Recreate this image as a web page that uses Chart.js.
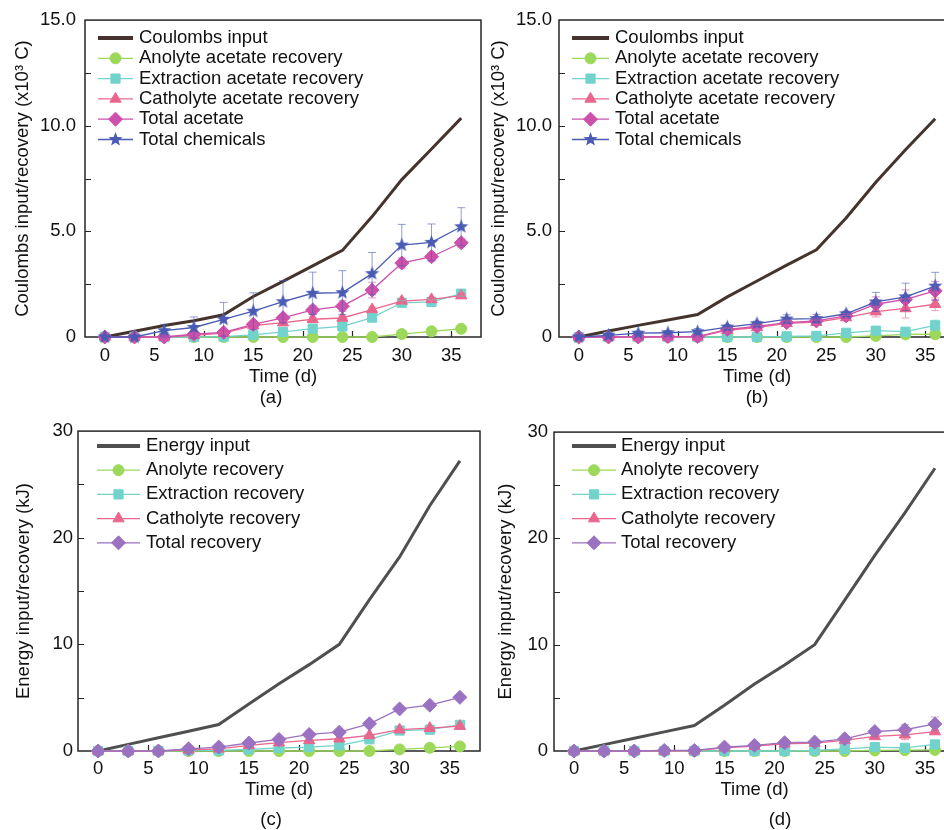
<!DOCTYPE html>
<html>
<head>
<meta charset="utf-8">
<script src="https://cdn.jsdelivr.net/npm/chart.js@4/dist/chart.umd.min.js"></script>
<style>
html, body { margin: 0; padding: 0; background: #fff; overflow: hidden; width: 944px; height: 830px; }
canvas { position: absolute; }
</style>
</head>
<body>
<canvas id="chartA" width="490" height="415" style="left:0;top:0"></canvas>
<canvas id="chartB" width="495" height="415" style="left:472px;top:0"></canvas>
<canvas id="chartC" width="490" height="415" style="left:0;top:415px"></canvas>
<canvas id="chartD" width="495" height="415" style="left:472px;top:415px"></canvas>
<script>
// dias de muestreo (compartidos por los 4 paneles)
const days = [0, 3, 6, 9, 12, 15, 18, 21, 24, 27, 30, 33, 36];
const dayTicks = [0, 5, 10, 15, 20, 25, 30, 35];

// (a) coulombs, x10^3 C
const coulombsA   = [0, 0.27, 0.54, 0.77, 1.05, 1.92, 2.63, 3.37, 4.1, 5.7, 7.45, 8.9, 10.36];
const anolyteA    = [0, 0, 0, 0, 0, 0, 0, 0, 0, 0, 0.14, 0.27, 0.39];
const extractionA = [0, 0, 0, 0, 0.02, 0.1, 0.24, 0.4, 0.5, 0.92, 1.62, 1.66, 2.05];
const catholyteA  = [0, 0, 0, 0.08, 0.18, 0.54, 0.68, 0.84, 0.9, 1.3, 1.7, 1.78, 1.96];
const acetateA    = [0, 0, 0, 0.13, 0.22, 0.6, 0.91, 1.28, 1.46, 2.22, 3.5, 3.8, 4.46];
const chemicalsA  = [0, 0, 0.3, 0.45, 0.84, 1.22, 1.67, 2.07, 2.1, 3.0, 4.35, 4.48, 5.22];
const extractionErrA = [0, 0, 0, 0, 0, 0.05, 0.08, 0.08, 0.1, 0.2, 0.1, 0.1, 0.12];
const catholyteErrA  = [0, 0, 0, 0, 0.05, 0.08, 0.1, 0.1, 0.1, 0.12, 0.1, 0.1, 0.1];
const acetateErrA    = [0, 0, 0, 0.05, 0.08, 0.12, 0.15, 0.2, 0.25, 0.37, 0.24, 0.2, 0.2];
const chemicalsErrA  = [0, 0, 0.3, 0.5, 0.8, 0.87, 1.0, 1.0, 1.04, 1.0, 0.98, 0.87, 0.9];

// (b) coulombs, x10^3 C
const coulombsB   = [0, 0.28, 0.55, 0.8, 1.06, 1.9, 2.65, 3.4, 4.13, 5.63, 7.32, 8.86, 10.33];
const anolyteB    = [0, 0, 0, 0, 0, 0, 0, 0, 0, 0, 0.05, 0.12, 0.13];
const extractionB = [0, 0, 0, 0, 0, 0, 0, 0.03, 0.05, 0.2, 0.3, 0.25, 0.55];
const catholyteB  = [0, 0, 0, 0, 0, 0.32, 0.45, 0.65, 0.7, 0.92, 1.2, 1.35, 1.55];
const acetateB    = [0, 0, 0, 0.02, 0.02, 0.36, 0.5, 0.68, 0.76, 1.0, 1.55, 1.78, 2.18];
const chemicalsB  = [0, 0.08, 0.18, 0.2, 0.25, 0.47, 0.63, 0.85, 0.87, 1.1, 1.66, 1.9, 2.41];
const extractionErrB = [0, 0, 0, 0, 0, 0, 0, 0, 0, 0, 0.05, 0.05, 0.25];
const catholyteErrB  = [0, 0, 0, 0, 0, 0.08, 0.08, 0.1, 0.1, 0.1, 0.25, 0.45, 0.3];
const acetateErrB    = [0, 0, 0, 0.05, 0.05, 0.1, 0.1, 0.12, 0.12, 0.1, 0.35, 0.45, 0.45];
const chemicalsErrB  = [0, 0.05, 0.1, 0.1, 0.15, 0.1, 0.12, 0.2, 0.2, 0.12, 0.45, 0.65, 0.65];

// (c) energia, kJ
const energyC     = [0, 0.62, 1.24, 1.86, 2.48, 4.4, 6.3, 8.1, 10.0, 14.2, 18.2, 23.0, 27.2];
const anolyteC    = [0, 0, 0, 0, 0, 0, 0, 0, 0, 0, 0.15, 0.3, 0.43];
const extractionC = [0, 0, 0, 0.05, 0.05, 0.15, 0.28, 0.37, 0.53, 1.1, 1.92, 2.0, 2.45];
const catholyteC  = [0, 0, 0, 0.1, 0.2, 0.53, 0.78, 1.0, 1.15, 1.46, 2.0, 2.14, 2.33];
const totalC      = [0, 0, 0, 0.2, 0.37, 0.75, 1.09, 1.55, 1.77, 2.55, 3.95, 4.3, 5.03];

// (d) energia, kJ
const energyD     = [0, 0.6, 1.2, 1.8, 2.4, 4.3, 6.3, 8.1, 10.0, 14.2, 18.4, 22.4, 26.6];
const anolyteD    = [0, 0, 0, 0, 0, 0, 0, 0, 0, 0, 0.05, 0.08, 0.1];
const extractionD = [0, 0, 0, 0, 0, 0, 0, 0, 0.05, 0.2, 0.37, 0.3, 0.62];
const catholyteD  = [0, 0, 0, 0, 0.02, 0.3, 0.45, 0.68, 0.75, 1.0, 1.37, 1.52, 1.83];
const totalD      = [0, 0, 0, 0.05, 0.05, 0.37, 0.53, 0.78, 0.84, 1.15, 1.83, 2.0, 2.55];
const catholyteErrD = [0, 0, 0, 0, 0, 0, 0, 0, 0, 0.1, 0.15, 0.45, 0.2];
const totalErrD     = [0, 0, 0, 0, 0, 0, 0, 0.05, 0.05, 0.1, 0.3, 0.5, 0.65];

const FONT = '"Liberation Sans", Arial, Helvetica, sans-serif';
const FS = 18.5;

function starImage(color, r) {
    const c = document.createElement("canvas");
    const s = Math.ceil(r * 2 + 2);
    c.width = s; c.height = s;
    const g = c.getContext("2d");
    g.fillStyle = color;
    g.beginPath();
    for (let i = 0; i < 10; i++) {
        const rad = i % 2 === 0 ? r : r * 0.42;
        const a = -Math.PI / 2 + i * Math.PI / 5;
        const px = s / 2 + Math.cos(a) * rad, py = s / 2 + Math.sin(a) * rad;
        i === 0 ? g.moveTo(px, py) : g.lineTo(px, py);
    }
    g.closePath();
    g.fill();
    return c;
}

// estilos de cada serie
const STYLES = {
    coulombs:   { color: "#45342e", width: 3, point: null },
    energy:     { color: "#4f4f4f", width: 3, point: null },
    anolyte:    { color: "#9cd85a", width: 1.3, point: "circle", r: 5.5 },
    extraction: { color: "#72d3cc", width: 1.3, point: "rect", r: 6.5 },
    catholyte:  { color: "#e9668d", width: 1.3, point: "triangle", r: 6.5 },
    acetate:    { color: "#cd50ab", width: 1.3, point: "rectRot", r: 7 },
    chemicals:  { color: "#4a5bb4", width: 1.3, point: starImage("#4a5bb4", 7.5), r: 7.5 },
    total:      { color: "#9b71c1", width: 1.3, point: "rectRot", r: 7 }
};

function series(label, values, kind, err) {
    return { label, values, kind, err };
}

function alpha(hex, a) {
    const n = parseInt(hex.slice(1), 16);
    return `rgba(${(n >> 16) & 255},${(n >> 8) & 255},${n & 255},${a})`;
}

// marco, ticks hacia dentro, barras de error, leyenda y etiqueta del panel
const decorPlugin = {
    id: "decor",
    beforeDatasetsDraw(chart, args, o) {
        const { ctx, chartArea: a, scales } = chart;
        ctx.save();
        ctx.strokeStyle = "#262626";
        ctx.lineWidth = 1.5;
        ctx.strokeRect(a.left, a.top, a.right - a.left, a.bottom - a.top);
        ctx.beginPath();
        scales.x.ticks.forEach(t => {
            const px = Math.round(scales.x.getPixelForValue(t.value)) + 0.5;
            ctx.moveTo(px, a.bottom); ctx.lineTo(px, a.bottom - 6);
        });
        for (let v = o.yMinor; v < scales.y.max; v += o.yMinor) {
            const py = Math.round(scales.y.getPixelForValue(v)) + 0.5;
            ctx.moveTo(a.left, py); ctx.lineTo(a.left + 6, py);
        }
        ctx.lineWidth = 1.2;
        ctx.stroke();
        ctx.restore();
    },
    afterDatasetsDraw(chart, args, o) {
        const { ctx, scales } = chart;
        ctx.save();
        o.series.forEach(s => {
            if (!s.err) return;
            ctx.strokeStyle = alpha(STYLES[s.kind].color, 0.6);
            ctx.lineWidth = 1;
            ctx.beginPath();
            s.err.forEach((e, i) => {
                if (!e) return;
                const px = scales.x.getPixelForValue(days[i]);
                const top = scales.y.getPixelForValue(s.values[i] + e);
                const bot = scales.y.getPixelForValue(s.values[i] - e);
                ctx.moveTo(px, top); ctx.lineTo(px, bot);
                ctx.moveTo(px - 4, top); ctx.lineTo(px + 4, top);
                ctx.moveTo(px - 4, bot); ctx.lineTo(px + 4, bot);
            });
            ctx.stroke();
        });
        ctx.restore();
    },
    afterDraw(chart, args, o) {
        const { ctx } = chart;
        const L = o.legend;
        ctx.save();
        ctx.font = `${FS}px ${FONT}`;
        ctx.textBaseline = "middle";
        ctx.textAlign = "left";
        chart.data.datasets.forEach((ds, i) => {
            const y = L.y0 + i * L.dy;
            const st = STYLES[o.series[i].kind];
            ctx.strokeStyle = st.color;
            ctx.lineWidth = st.width === 3 ? 4 : st.width;
            ctx.beginPath();
            ctx.moveTo(L.x1, y); ctx.lineTo(L.x2, y);
            ctx.stroke();
            if (st.point) {
                ctx.fillStyle = st.color;
                ctx.strokeStyle = st.color;
                ctx.lineWidth = 1;
                Chart.helpers.drawPoint(ctx, { pointStyle: st.point, radius: st.r, rotation: 0, borderWidth: 1 }, (L.x1 + L.x2) / 2, y);
            }
            ctx.fillStyle = "#111";
            ctx.fillText(ds.label, L.tx, y);
        });
        ctx.textAlign = "center";
        ctx.fillText(o.tag.text, o.tag.x, o.tag.y);
        ctx.restore();
    }
};

function buildPanel(p) {
    const n = p.series.length;
    const datasets = p.series.map((s, i) => {
        const st = STYLES[s.kind];
        return {
            label: s.label,
            data: days.map((d, j) => ({ x: d, y: s.values[j] })),
            borderColor: st.color,
            backgroundColor: st.color,
            borderWidth: st.width,
            pointStyle: st.point || "circle",
            pointRadius: st.point ? st.r : 0,
            pointBorderWidth: 1,
            tension: 0,
            clip: false,
            order: n - i
        };
    });
    new Chart(document.getElementById(p.id), {
        type: "line",
        data: { datasets },
        plugins: [decorPlugin],
        options: {
            responsive: false,
            animation: false,
            events: [],
            layout: { padding: { top: p.padTop, right: p.padRight, left: 0, bottom: 0 } },
            plugins: {
                legend: { display: false },
                tooltip: { enabled: false },
                decor: { series: p.series, yMinor: p.yMinor, legend: p.legend, tag: p.tag }
            },
            scales: {
                x: {
                    type: "linear", min: -2, max: 38,
                    grid: { display: false, drawTicks: false }, border: { display: false },
                    ticks: { padding: p.xTickPad, color: "#111", font: { family: FONT, size: FS } },
                    afterBuildTicks: s => { s.ticks = dayTicks.map(v => ({ value: v })); },
                    afterFit: s => { s.height = p.xH; },
                    title: { display: true, text: "Time (d)", color: "#111", font: { family: FONT, size: FS }, padding: { top: 0, bottom: p.xTitlePad } }
                },
                y: {
                    type: "linear", min: 0, max: p.yMax,
                    grid: { display: false, drawTicks: false }, border: { display: false },
                    ticks: {
                        stepSize: p.yStep, padding: p.yTickPad, color: "#111", font: { family: FONT, size: FS },
                        callback: v => v === 0 ? "0" : v.toFixed(p.decimals)
                    },
                    afterFit: s => { s.width = p.yW; },
                    title: { display: true, text: p.yLabel, color: "#111", font: { family: FONT, size: FS }, padding: { top: p.yTitlePad, bottom: 0 } }
                }
            }
        }
    });
}

const coulombLabel = "Coulombs input/recovery (x10³ C)";
const energyLabel = "Energy input/recovery (kJ)";

buildPanel({
    id: "chartA", yMax: 15, yStep: 5, yMinor: 2.5, decimals: 1, yLabel: coulombLabel,
    yW: 85, xH: 78, padTop: 20, padRight: 9, yTickPad: 9, xTickPad: 8, yTitlePad: 12, xTitlePad: 27,
    legend: { x1: 98, x2: 133, tx: 139, y0: 38, dy: 20.3 },
    tag: { text: "(a)", x: 271, y: 398 },
    series: [
        series("Coulombs input", coulombsA, "coulombs"),
        series("Anolyte acetate recovery", anolyteA, "anolyte"),
        series("Extraction acetate recovery", extractionA, "extraction", extractionErrA),
        series("Catholyte acetate recovery", catholyteA, "catholyte", catholyteErrA),
        series("Total acetate", acetateA, "acetate", acetateErrA),
        series("Total chemicals", chemicalsA, "chemicals", chemicalsErrA)
    ]
});

buildPanel({
    id: "chartB", yMax: 15, yStep: 5, yMinor: 2.5, decimals: 1, yLabel: coulombLabel,
    yW: 87, xH: 78, padTop: 20, padRight: 12, yTickPad: 7, xTickPad: 8, yTitlePad: 16, xTitlePad: 27,
    legend: { x1: 100, x2: 137, tx: 143, y0: 38, dy: 20.3 },
    tag: { text: "(b)", x: 285, y: 398 },
    series: [
        series("Coulombs input", coulombsB, "coulombs"),
        series("Anolyte acetate recovery", anolyteB, "anolyte"),
        series("Extraction acetate recovery", extractionB, "extraction", extractionErrB),
        series("Catholyte acetate recovery", catholyteB, "catholyte", catholyteErrB),
        series("Total acetate", acetateB, "acetate", acetateErrB),
        series("Total chemicals", chemicalsB, "chemicals", chemicalsErrB)
    ]
});

buildPanel({
    id: "chartC", yMax: 30, yStep: 10, yMinor: 5, decimals: 0, yLabel: energyLabel,
    yW: 78, xH: 79, padTop: 13, padRight: 10, yTickPad: 5, xTickPad: 7, yTitlePad: 13, xTitlePad: 29,
    legend: { x1: 97, x2: 140, tx: 146, y0: 31, dy: 24.2 },
    tag: { text: "(c)", x: 271, y: 405 },
    series: [
        series("Energy input", energyC, "energy"),
        series("Anolyte recovery", anolyteC, "anolyte"),
        series("Extraction recovery", extractionC, "extraction"),
        series("Catholyte recovery", catholyteC, "catholyte"),
        series("Total recovery", totalC, "total")
    ]
});

buildPanel({
    id: "chartD", yMax: 30, yStep: 10, yMinor: 5, decimals: 0, yLabel: energyLabel,
    yW: 82, xH: 79, padTop: 13, padRight: 12, yTickPad: 6, xTickPad: 7, yTitlePad: 23, xTitlePad: 29,
    legend: { x1: 100, x2: 144, tx: 149, y0: 31, dy: 24.2 },
    tag: { text: "(d)", x: 308, y: 405 },
    series: [
        series("Energy input", energyD, "energy"),
        series("Anolyte recovery", anolyteD, "anolyte"),
        series("Extraction recovery", extractionD, "extraction"),
        series("Catholyte recovery", catholyteD, "catholyte", catholyteErrD),
        series("Total recovery", totalD, "total", totalErrD)
    ]
});
</script>
</body>
</html>
